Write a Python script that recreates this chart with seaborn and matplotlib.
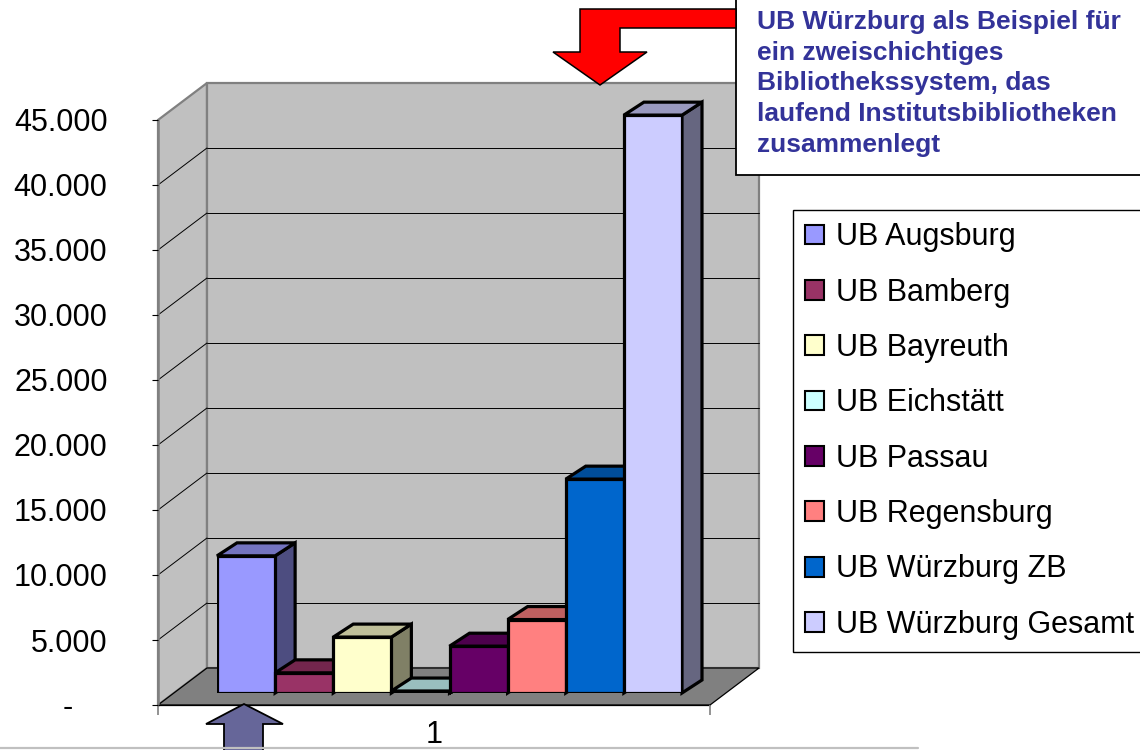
import matplotlib
matplotlib.use("Agg")
import matplotlib.pyplot as plt
import seaborn as sns
import pandas as pd
import numpy as np
from matplotlib.patches import Polygon
from matplotlib.transforms import IdentityTransform
from matplotlib.colors import to_rgb

# Data
libraries = ["UB Augsburg", "UB Bamberg", "UB Bayreuth", "UB Eichstätt",
             "UB Passau", "UB Regensburg", "UB Würzburg ZB", "UB Würzburg Gesamt"]
values = [10550, 1550, 4300, 150, 3600, 5650, 16450, 44450]
colors = ["#9999FF", "#993366", "#FFFFCC", "#CCFFFF",
          "#660066", "#FF8080", "#0066CC", "#CCCCFF"]
group = ["1"] * len(libraries)
yticks = list(range(0, 45001, 5000))
ytick_labels = ["-\u2007\u2007"] + [f"{v:,}".replace(",", ".") for v in yticks[1:]]
note = ("UB Würzburg als Beispiel für\nein zweischichtiges\n"
        "Bibliothekssystem, das\nlaufend Institutsbibliotheken\nzusammenlegt")

W, H = 1140, 750
sns.set_style("white")
plt.rcParams["font.family"] = ["Liberation Sans", "DejaVu Sans"]
plt.rcParams["text.color"] = "black"
plt.rcParams["xtick.color"] = "black"
plt.rcParams["ytick.color"] = "black"

fig = plt.figure(figsize=(W / 100, H / 100), dpi=100)


def box(l, t, r, b):
    # image pixels -> figure fraction rect
    return [l / W, 1 - b / H, (r - l) / W, (b - t) / H]


def img(axes, x, y):
    X, Y = axes.transData.transform((x, y))
    return X, H - Y


# background (walls, floor) in image pixels
bg = fig.add_axes([0, 0, 1, 1], zorder=0)
bg.set_xlim(0, W)
bg.set_ylim(H, 0)
bg.axis("off")

# front plane of the 3D box: holds the value axis
axf = fig.add_axes(box(158, 120, 710, 705), zorder=1)
axf.patch.set_visible(False)
axf.set_xlim(0, 1)
axf.set_ylim(0, 45000)
for s in axf.spines.values():
    s.set_visible(False)
axf.set_yticks(yticks, ytick_labels, fontsize=22, color="black")
axf.tick_params(axis="y", left=True, length=4.3, width=0.8, color="black", pad=32)
axf.set_xticks([0.5], ["1"], fontsize=22, color="black")
axf.tick_params(axis="x", bottom=True, length=0, pad=11)
axf.set_xticks([0, 1], minor=True)
axf.tick_params(axis="x", which="minor", bottom=True, length=7, width=1.2, color="#808080")

# bar plane
ax = fig.add_axes(box(217, 108, 682, 693), zorder=2)
ax.patch.set_visible(False)
df = pd.DataFrame({"group": group, "library": libraries, "value": values})
sns.barplot(data=df, x="group", y="value", hue="library", hue_order=libraries,
            palette=colors, saturation=1, width=1, edgecolor="black",
            linewidth=2.3, ax=ax)
ax.set_xlim(-0.5, 0.5)
ax.set_ylim(0, 45000)
ax.axis("off")

# walls and floor
dep_x, dep_y = 49, 37
fl, fb = img(axf, 0, 0)
fr, _ = img(axf, 1, 0)
_, ft = img(axf, 0, 45000)
wall_kw = dict(facecolor="#C0C0C0", edgecolor="#808080", linewidth=1.6, joinstyle="miter")
bg.add_patch(Polygon([(fl, fb), (fl, ft), (fl + dep_x, ft - dep_y), (fl + dep_x, fb - dep_y)], **wall_kw))
bg.add_patch(Polygon([(fl + dep_x, fb - dep_y), (fl + dep_x, ft - dep_y),
                      (fr + dep_x, ft - dep_y), (fr + dep_x, fb - dep_y)], **wall_kw))
bg.add_patch(Polygon([(fl, fb), (fr, fb), (fr + dep_x, fb - dep_y), (fl + dep_x, fb - dep_y)],
                     facecolor="#808080", edgecolor="black", linewidth=0.9))
for v in yticks[1:-1]:
    _, yv = img(axf, 0, v)
    bg.plot([fl, fl + dep_x], [yv, yv - dep_y], color="black", lw=0.7)
    bg.plot([fl + dep_x, fr + dep_x], [yv - dep_y, yv - dep_y], color="black", lw=0.7)
bg.plot([fl, fl], [fb, ft], color="#808080", lw=1.8)
bg.plot([fl, fr], [fb, fb], color="black", lw=0.9)

# 3D faces of the bars (drawn under the front faces)
bars = sorted(ax.patches, key=lambda p: p.get_x())
bx, by = 20, 13
for p in bars:
    x0 = p.get_x()
    x1 = x0 + p.get_width()
    X0, Y0 = ax.transData.transform((x0, 0))
    X1, Y1 = ax.transData.transform((x1, p.get_height()))
    rgb = np.array(to_rgb(p.get_facecolor()))
    side = Polygon([(X1, Y0), (X1, Y1), (X1 + bx, Y1 + by), (X1 + bx, Y0 + by)],
                   facecolor=rgb * 0.5, edgecolor="black", linewidth=2.3,
                   transform=IdentityTransform(), clip_on=False, zorder=0.5)
    top = Polygon([(X0, Y1), (X1, Y1), (X1 + bx, Y1 + by), (X0 + bx, Y1 + by)],
                  facecolor=rgb * 0.75, edgecolor="black", linewidth=2.3,
                  transform=IdentityTransform(), clip_on=False, zorder=0.5)
    ax.add_patch(side)
    ax.add_patch(top)

# legend
handles, labels = ax.get_legend_handles_labels()
if ax.get_legend():
    ax.get_legend().remove()
leg = ax.legend(handles, labels, loc="upper left", bbox_to_anchor=(793 / W, 1 - 210 / H),
                bbox_transform=fig.transFigure, borderaxespad=0, fontsize=22,
                frameon=True, fancybox=False, edgecolor="black", framealpha=1,
                handlelength=0.62, handleheight=0.62, handletextpad=0.4,
                labelspacing=0.83, borderpad=0.4)
leg.get_frame().set_linewidth(1.0)
for h in leg.get_patches():
    h.set_edgecolor("black")
    h.set_linewidth(1.5)

# overlay: note box, arrows
fg = fig.add_axes([0, 0, 1, 1], zorder=3)
fg.set_xlim(0, W)
fg.set_ylim(H, 0)
fg.axis("off")
fg.add_patch(Polygon([(736, -5), (1150, -5), (1150, 175), (736, 175)],
                     facecolor="white", edgecolor="black", linewidth=1.3))
fg.text(757, 10, note, ha="left", va="top", fontsize=19, fontweight="bold",
        color="#333399", linespacing=1.35)
fg.add_patch(Polygon([(736, 9), (580, 9), (580, 52), (553, 52), (600, 85), (647, 52),
                      (620, 52), (620, 28), (736, 28)],
                     facecolor="#FF0000", edgecolor="black", linewidth=1.1))
fg.add_patch(Polygon([(244, 704), (283, 724), (263, 724), (263, 760), (224, 760),
                      (224, 724), (206, 724)],
                     facecolor="#666699", edgecolor="black", linewidth=1.3, clip_on=True))
fg.plot([0, 918], [748, 748], color="#C0C0C0", lw=1.6)

fig.savefig("out.png", dpi=100)
